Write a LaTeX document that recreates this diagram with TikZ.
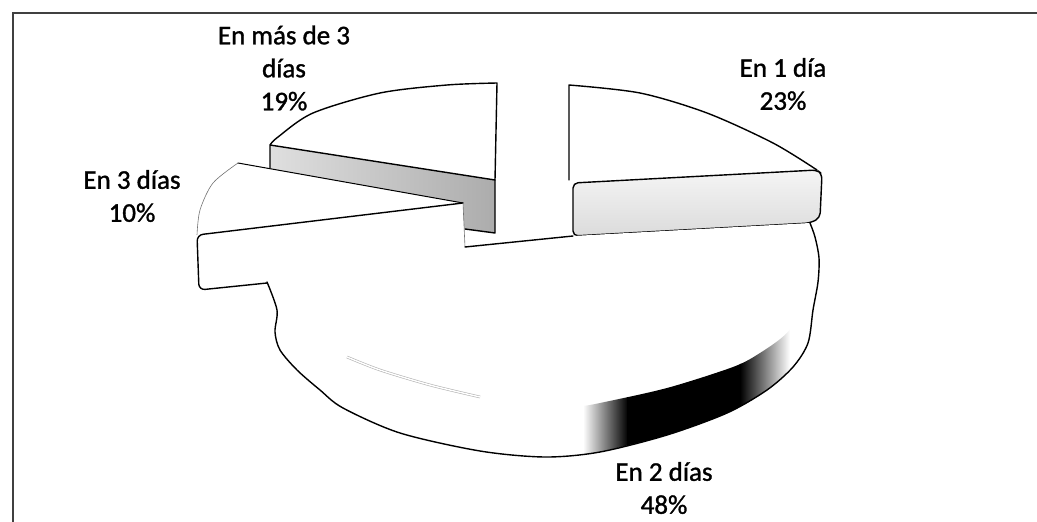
\documentclass[tikz,border=0pt]{standalone}
\usepackage{fontspec}
\setmainfont{Carlito}
\newfontfamily\lblfont{Carlito}[BoldFont={*}, BoldFeatures={FakeBold=1.2}]
\usepackage{tikz}

\begin{document}
\begin{tikzpicture}[x=1pt, y=-1pt,
	lbl/.style={font=\lblfont\bfseries\fontsize{27}{33}\selectfont, inner sep=0, align=center},
	outl/.style={draw=black, line width=1.4, line join=round, line cap=round},
	faint/.style={draw=black!55, line width=0.6}
]
\useasboundingbox (0,0) rectangle (1037,522);

% frame
\draw[black!75, line width=2] (13,522) -- (13,13) -- (1037,13);

% slice 19% (back left)
\shade[left color=gray!25, right color=gray!65] (270,145) -- (495,180) -- (495,233) -- (465,229) -- (270,198) -- cycle;
\draw[outl] (465,229) -- (495,233) -- (495,180);
\fill[white] (495,180) -- (497,83) -- plot[smooth] coordinates {(497,83) (447,85) (380,93) (313,113) (278,137) (270,145)} -- cycle;
\draw[outl] (270,168) -- (270,145) -- plot[smooth] coordinates {(270,145) (278,137) (313,113) (380,93) (447,85) (497,83)} -- (495,180) -- (270,145);

% slice 10%
\fill[white] (463,203) -- (238,163) -- plot[smooth] coordinates {(238,163) (213,183) (200,210) (197,235)} -- cycle;
\draw[faint] plot[smooth] coordinates {(238,163) (213,183) (200,210) (197,235)};
\draw[outl, line width=1] (238,163) -- (463,203);
\fill[white] (197,235) -- (463,203) -- (465,247) -- (267,283) -- (206,290) -- (199,284) -- cycle;
\draw[outl, rounded corners=6] (463,203) -- (197,235) -- (199,290) -- (267,283);
\draw[faint] (463,203) -- (465,247);

% slice 23% (back right)
\fill[white] (569,183) -- (569,85) -- plot[smooth] coordinates {(569,85) (640,93) (707,113) (773,143) (817,170)} -- cycle;
\draw[outl] (569,180) -- (569,85) -- plot[smooth] coordinates {(569,85) (640,93) (707,113) (773,143) (817,170)};
\shade[top color=gray!8, bottom color=gray!28, outl, rounded corners=5] (573,183) -- (817,170) -- (822,174) -- (820,218) -- (810,223) -- (573,236) -- cycle;

% slice 48% (front)
\fill[white] (267,282) -- (465,247) -- (573,236) -- (810,223)
	-- plot[smooth] coordinates {(810,223) (815,237) (819,258) (818,282) (813,310) (808,343) (793,367) (767,390) (727,413) (667,435) (600,452) (545,457) (480,451) (400,433) (343,408) (320,390) (297,370) (280,350) (275,332) (277,310) (267,282)} -- cycle;
\begin{scope}
\clip plot[smooth] coordinates {(583,406) (600,403) (667,388) (733,367) (760,353) (787,333) (813,300)}
	-- plot[smooth] coordinates {(813,310) (808,343) (793,367) (767,390) (727,413) (667,435) (600,452) (583,455)} -- cycle;
\shade[left color=white, right color=black] (583,290) rectangle (628,460);
\fill[black] (627,290) rectangle (741,460);
\shade[left color=black, right color=white] (740,290) rectangle (790,460);
\end{scope}
\draw[outl] (465,247) -- (573,236);
\draw[outl] plot[smooth] coordinates {(810,223) (815,237) (819,258) (818,282) (813,310) (808,343) (793,367) (767,390) (727,413) (667,435) (600,452) (545,457) (480,451) (400,433) (343,408) (320,390) (297,370) (280,350) (275,332) (277,310) (267,282)};
\draw[gray!60, line width=0.6, double=white, double distance=1.4] plot[smooth] coordinates {(347,357) (380,370) (430,385) (480,397)};

% labels
\node[lbl] (lab19) at (284,68) {En más de 3\\días\\19\%};
\node[lbl] (lab23) at (783,84) {En 1 día\\23\%};
\node[lbl] (lab10) at (132,196) {En 3 días\\10\%};
\node[lbl] (lab48) at (664,488) {En 2 días\\48\%};
\end{tikzpicture}
\end{document}
